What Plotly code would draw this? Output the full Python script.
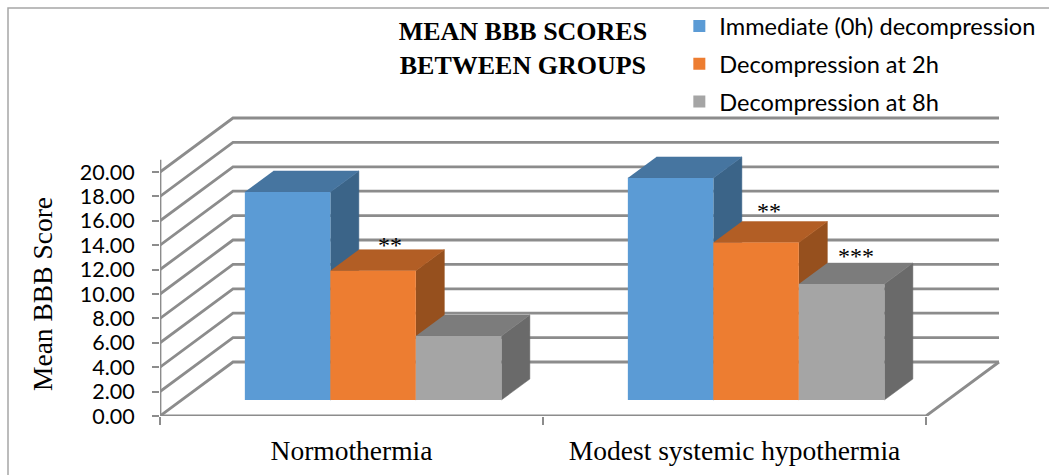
import plotly.graph_objects as go

categories = ["Normothermia", "Modest systemic hypothermia"]
series_names = ["Immediate (0h) decompression", "Decompression at 2h", "Decompression at 8h"]
immediate = [17.05, 18.2]
at_2h = [10.6, 12.9]
at_8h = [5.25, 9.5]
significance_2h = ["**", "**"]
significance_8h = ["", "***"]
y_ticks = [0, 2, 4, 6, 8, 10, 12, 14, 16, 18, 20]

front_colors = ["#5B9BD5", "#ED7D31", "#A5A5A5"]
top_colors = ["#4675A0", "#B25E25", "#7C7C7C"]
side_colors = ["#3B6488", "#96501E", "#6A6A6A"]

PX_X = 383.0   # pixels per category
PX_Y = 12.2    # pixels per score unit
WALL_DX, WALL_DY = 73 / PX_X, 54 / PX_Y
BAR_BASE = 16 / PX_Y
BAR_SHIFT = 21.6 / PX_X
BAR_W = 85.5 / PX_X
BAR_DX, BAR_DY = 28.5 / PX_X, 21 / PX_Y
GRID = "#8C8C8C"
X_MAX, Y_MAX = 850 / PX_X, 306 / PX_Y
SERIF = "Liberation Serif"
SANS = "Lato"

fig = go.Figure()


def poly(xs, ys, color):
    fig.add_trace(go.Scatter(x=xs, y=ys, mode="lines", fill="toself", fillcolor=color,
                             line=dict(color=color, width=0.5), showlegend=False,
                             hoverinfo="skip", cliponaxis=False))


def line(xs, ys, width=2.8, color=GRID):
    fig.add_trace(go.Scatter(x=xs, y=ys, mode="lines", line=dict(color=color, width=width),
                             showlegend=False, hoverinfo="skip", cliponaxis=False))


# Wall gridlines
for t in y_ticks:
    line([0, WALL_DX, 2 + WALL_DX], [t, t + WALL_DY, t + WALL_DY])
# Floor edge and y axis
line([0, 2, 2 + WALL_DX], [0, 0, WALL_DY])
line([0, 0], [0, 21])

all_series = [immediate, at_2h, at_8h]
# Sides and tops, back-to-front from left to right
for s, values in enumerate(all_series):
    for c, v in enumerate(values):
        left = c + 0.5 + BAR_SHIFT + (s - 1.5) * BAR_W
        right = left + BAR_W
        top = BAR_BASE + v
        poly([right, right + BAR_DX, right + BAR_DX, right],
             [BAR_BASE, BAR_BASE + BAR_DY, top + BAR_DY, top], side_colors[s])
        poly([left, right, right + BAR_DX, left + BAR_DX],
             [top, top, top + BAR_DY, top + BAR_DY], top_colors[s])

# Front faces
for s, values in enumerate(all_series):
    fig.add_trace(go.Bar(
        x=[c + 0.5 + BAR_SHIFT + (s - 1) * BAR_W for c in range(len(values))],
        y=values, base=BAR_BASE, width=BAR_W, name=series_names[s],
        marker=dict(color=front_colors[s], line=dict(width=0)),
        xaxis="x2", yaxis="y2", hoverinfo="skip", legendgroup=series_names[s]))

annotations = [dict(text="Mean BBB Score", textangle=-90, showarrow=False,
                    xref="paper", yref="paper", x=-118 / 850, y=1 - 184 / 306,
                    xanchor="center", yanchor="middle",
                    font=dict(family=SERIF, size=27.5, color="#000"))]
star_nudges = {(1, 0): (3, -10), (1, 1): (-1, -4), (2, 1): (0, -8)}
for s, (values, marks) in [(1, (at_2h, significance_2h)), (2, (at_8h, significance_8h))]:
    for c, (v, m) in enumerate(zip(values, marks)):
        if m:
            dx, dy = star_nudges[(s, c)]
            annotations.append(dict(
                x=c + 0.5 + BAR_SHIFT + (s - 1) * BAR_W + BAR_DX / 2, y=BAR_BASE + v + BAR_DY,
                text=m, showarrow=False, xanchor="center", yanchor="bottom", xshift=dx, yshift=dy,
                font=dict(family=SERIF, size=24, color="#000")))

fig.update_layout(
    width=1049, height=475, margin=dict(l=160, r=39, t=110, b=59, autoexpand=False),
    paper_bgcolor="white", plot_bgcolor="rgba(0,0,0,0)", barmode="overlay",
    font=dict(family=SANS, color="#000"),
    title=dict(text="MEAN BBB SCORES<br>BETWEEN GROUPS", xref="container", yref="container",
               x=0.4985, xanchor="center", y=0.916, yanchor="top",
               font=dict(family=SERIF, size=26, color="#000", weight="bold")),
    xaxis=dict(range=[0, X_MAX], showgrid=False, zeroline=False, showline=False,
               tickvals=[0.5, 1.5], ticktext=categories, ticks="",
               tickfont=dict(family=SERIF, size=27.5), ticklabelstandoff=15,
               minor=dict(tickvals=[0, 1, 2], ticks="outside", ticklen=8, tickcolor=GRID, tickwidth=1.5)),
    yaxis=dict(range=[0, Y_MAX], showgrid=False, zeroline=False, showline=False,
               tickvals=y_ticks, tickformat=".2f", ticks="outside", ticklen=7, tickcolor=GRID, tickwidth=1.5,
               tickfont=dict(family=SANS, size=21.5), ticklabelstandoff=13),
    xaxis2=dict(range=[0, X_MAX], overlaying="x", visible=False),
    yaxis2=dict(range=[0, Y_MAX], overlaying="y", visible=False),
    legend=dict(xref="container", yref="container", x=0.6476, y=0.991, xanchor="left", yanchor="top",
                font=dict(family=SANS, size=23.6), tracegroupgap=4, bgcolor="rgba(0,0,0,0)",
                itemclick=False, itemdoubleclick=False),
    shapes=[dict(type="rect", xref="paper", yref="paper",
                 x0=-152 / 850, x1=1.1, y0=-0.3, y1=1 + 102 / 306,
                 line=dict(color="#A6A6A6", width=1.5), layer="below")],
    annotations=annotations,
)

fig.write_html("out.html", post_script="document.body.style.margin='0'",
               config=dict(displayModeBar=False))
